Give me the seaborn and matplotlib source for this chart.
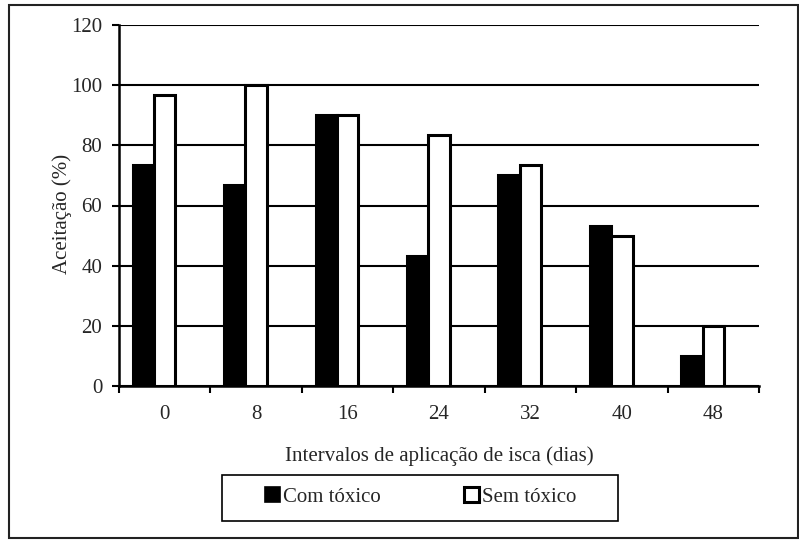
import matplotlib
matplotlib.use("Agg")
import matplotlib.pyplot as plt
from matplotlib.patches import Rectangle, Patch
from matplotlib.ticker import FixedLocator
import numpy as np
import pandas as pd
import seaborn as sns

# Bait acceptance (%) by application interval (days)
intervalos = ["0", "8", "16", "24", "32", "40", "48"]
com_toxico = [73.3, 66.7, 90.0, 43.3, 70.0, 53.3, 10.0]
sem_toxico = [96.7, 100.0, 90.0, 83.3, 73.3, 50.0, 20.0]
series = ["Com tóxico", "Sem tóxico"]
y_ticks = [0, 20, 40, 60, 80, 100, 120]

df = pd.DataFrame({
    "intervalo": intervalos * 2,
    "aceitacao": com_toxico + sem_toxico,
    "grupo": [series[0]] * len(intervalos) + [series[1]] * len(intervalos),
})

FS = 15

sns.set_style("white")
plt.rcParams["font.family"] = ["Liberation Serif", "DejaVu Serif"]
plt.rcParams["font.size"] = FS

fig = plt.figure(figsize=(7.99, 5.41), dpi=100)
ax = fig.add_axes([119 / 799, 1 - 386 / 541, 640 / 799, 361 / 541])

# third (empty) slot keeps the pair shifted left within each group
hue_order = series + ["_vazio"]
palette = {series[0]: "black", series[1]: "white", "_vazio": "white"}
sns.barplot(data=df, x="intervalo", y="aceitacao", hue="grupo",
            order=intervalos, hue_order=hue_order, palette=palette,
            width=0.7, edgecolor="black", linewidth=2.2, saturation=1,
            legend=False, ax=ax, zorder=3)

ax.set_xlim(-0.5, len(intervalos) - 0.5)
ax.set_ylim(0, 120)
ax.set_yticks(y_ticks)
ax.set_yticklabels([str(v) for v in y_ticks])
ax.yaxis.grid(True, color="black", linewidth=1.5, zorder=0)
ax.xaxis.grid(False)
ax.set_axisbelow(True)

for s in ["top", "right"]:
    ax.spines[s].set_visible(False)
for s in ["left", "bottom"]:
    ax.spines[s].set_color("black")
    ax.spines[s].set_linewidth(1.8)
    ax.spines[s].set_zorder(4)

ax.tick_params(axis="y", which="major", direction="out", length=5, width=1.5,
               color="black", labelsize=FS, pad=7, left=True)
ax.tick_params(axis="x", which="major", length=0, labelsize=FS, pad=14)
ax.xaxis.set_minor_locator(FixedLocator(np.arange(-0.5, len(intervalos), 1.0)))
ax.tick_params(axis="x", which="minor", direction="out", length=5, width=1.5,
               color="black", bottom=True)

ax.set_xlabel("Intervalos de aplicação de isca (dias)", fontsize=FS)
ax.set_ylabel("Aceitação (%)", fontsize=FS)
ax.xaxis.set_label_coords(0.5, -0.167)
ax.yaxis.set_label_coords(-0.073, 0.476)

handles = [Patch(facecolor="black", edgecolor="black", linewidth=1.2),
           Patch(facecolor="white", edgecolor="black", linewidth=2.2)]
fig.legend(handles=handles, labels=series, loc="center",
           bbox_to_anchor=(421 / 799, 1 - 497 / 541), ncol=2, frameon=False,
           fontsize=FS, handlelength=0.72, handleheight=0.72,
           handletextpad=0.15, columnspacing=4.0)

# legend box and outer frame
fig.add_artist(Rectangle((222 / 799, 1 - 521 / 541), 396 / 799, 46 / 541,
                         transform=fig.transFigure, fill=False,
                         edgecolor="black", linewidth=1.2))
fig.add_artist(Rectangle((9 / 799, 1 - 538 / 541), 789 / 799, 533 / 541,
                         transform=fig.transFigure, fill=False,
                         edgecolor="#222222", linewidth=1.5))

fig.savefig("out.png", dpi=100)
